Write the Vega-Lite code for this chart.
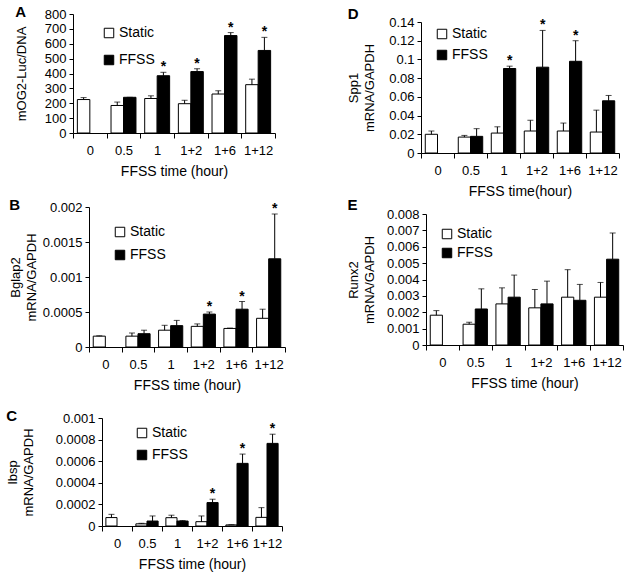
{
  "$schema": "https://vega.github.io/schema/vega-lite/v6.json",
  "padding": {"left": 6, "top": 5, "right": 2, "bottom": 2},
  "background": "white",
  "data": {"values": [
    {"panel": "A", "time": "0", "cond": "Static", "v": 225, "hi": 238},
    {"panel": "A", "time": "0.5", "cond": "Static", "v": 185, "hi": 208},
    {"panel": "A", "time": "0.5", "cond": "FFSS", "v": 240, "hi": 240},
    {"panel": "A", "time": "1", "cond": "Static", "v": 232, "hi": 250},
    {"panel": "A", "time": "1", "cond": "FFSS", "v": 385, "hi": 408, "star": 1},
    {"panel": "A", "time": "1+2", "cond": "Static", "v": 197, "hi": 220},
    {"panel": "A", "time": "1+2", "cond": "FFSS", "v": 413, "hi": 432, "star": 1},
    {"panel": "A", "time": "1+6", "cond": "Static", "v": 262, "hi": 284},
    {"panel": "A", "time": "1+6", "cond": "FFSS", "v": 655, "hi": 675, "star": 1},
    {"panel": "A", "time": "1+12", "cond": "Static", "v": 325, "hi": 362},
    {"panel": "A", "time": "1+12", "cond": "FFSS", "v": 555, "hi": 643, "star": 1},

    {"panel": "B", "time": "0", "cond": "Static", "v": 0.000155, "hi": 0.00016},
    {"panel": "B", "time": "0.5", "cond": "Static", "v": 0.000155, "hi": 0.0002},
    {"panel": "B", "time": "0.5", "cond": "FFSS", "v": 0.00019, "hi": 0.00024},
    {"panel": "B", "time": "1", "cond": "Static", "v": 0.00024, "hi": 0.00031},
    {"panel": "B", "time": "1", "cond": "FFSS", "v": 0.000305, "hi": 0.00038},
    {"panel": "B", "time": "1+2", "cond": "Static", "v": 0.000295, "hi": 0.00033},
    {"panel": "B", "time": "1+2", "cond": "FFSS", "v": 0.00047, "hi": 0.0005, "star": 1},
    {"panel": "B", "time": "1+6", "cond": "Static", "v": 0.000265, "hi": 0.00027},
    {"panel": "B", "time": "1+6", "cond": "FFSS", "v": 0.00054, "hi": 0.00065, "star": 1},
    {"panel": "B", "time": "1+12", "cond": "Static", "v": 0.00041, "hi": 0.00054},
    {"panel": "B", "time": "1+12", "cond": "FFSS", "v": 0.00126, "hi": 0.0019, "star": 1},

    {"panel": "C", "time": "0", "cond": "Static", "v": 0.000078, "hi": 0.000108},
    {"panel": "C", "time": "0.5", "cond": "Static", "v": 0.00002, "hi": 0.000025},
    {"panel": "C", "time": "0.5", "cond": "FFSS", "v": 0.000046, "hi": 0.000093},
    {"panel": "C", "time": "1", "cond": "Static", "v": 0.000077, "hi": 0.0001},
    {"panel": "C", "time": "1", "cond": "FFSS", "v": 0.000046, "hi": 0.00005},
    {"panel": "C", "time": "1+2", "cond": "Static", "v": 0.00004, "hi": 0.000093},
    {"panel": "C", "time": "1+2", "cond": "FFSS", "v": 0.000217, "hi": 0.000248, "star": 1},
    {"panel": "C", "time": "1+6", "cond": "Static", "v": 0.00001, "hi": 0.000012},
    {"panel": "C", "time": "1+6", "cond": "FFSS", "v": 0.00058, "hi": 0.000666, "star": 1},
    {"panel": "C", "time": "1+12", "cond": "Static", "v": 0.00008, "hi": 0.00017},
    {"panel": "C", "time": "1+12", "cond": "FFSS", "v": 0.000765, "hi": 0.00085, "star": 1},

    {"panel": "D", "time": "0", "cond": "Static", "v": 0.02, "hi": 0.0235},
    {"panel": "D", "time": "0.5", "cond": "Static", "v": 0.017, "hi": 0.0188},
    {"panel": "D", "time": "0.5", "cond": "FFSS", "v": 0.0178, "hi": 0.026},
    {"panel": "D", "time": "1", "cond": "Static", "v": 0.0213, "hi": 0.028},
    {"panel": "D", "time": "1", "cond": "FFSS", "v": 0.0903, "hi": 0.0928, "star": 1},
    {"panel": "D", "time": "1+2", "cond": "Static", "v": 0.0235, "hi": 0.035},
    {"panel": "D", "time": "1+2", "cond": "FFSS", "v": 0.0917, "hi": 0.131, "star": 1},
    {"panel": "D", "time": "1+6", "cond": "Static", "v": 0.0235, "hi": 0.032},
    {"panel": "D", "time": "1+6", "cond": "FFSS", "v": 0.098, "hi": 0.12, "star": 1},
    {"panel": "D", "time": "1+12", "cond": "Static", "v": 0.0224, "hi": 0.0458},
    {"panel": "D", "time": "1+12", "cond": "FFSS", "v": 0.0558, "hi": 0.0615},

    {"panel": "E", "time": "0", "cond": "Static", "v": 0.00182, "hi": 0.0021},
    {"panel": "E", "time": "0.5", "cond": "Static", "v": 0.00127, "hi": 0.00139},
    {"panel": "E", "time": "0.5", "cond": "FFSS", "v": 0.0022, "hi": 0.00343},
    {"panel": "E", "time": "1", "cond": "Static", "v": 0.00251, "hi": 0.00349},
    {"panel": "E", "time": "1", "cond": "FFSS", "v": 0.00292, "hi": 0.00427},
    {"panel": "E", "time": "1+2", "cond": "Static", "v": 0.00227, "hi": 0.00339},
    {"panel": "E", "time": "1+2", "cond": "FFSS", "v": 0.00251, "hi": 0.0039},
    {"panel": "E", "time": "1+6", "cond": "Static", "v": 0.00292, "hi": 0.0046},
    {"panel": "E", "time": "1+6", "cond": "FFSS", "v": 0.00273, "hi": 0.0037},
    {"panel": "E", "time": "1+12", "cond": "Static", "v": 0.00292, "hi": 0.00382},
    {"panel": "E", "time": "1+12", "cond": "FFSS", "v": 0.00524, "hi": 0.00684}
  ]},
  "columns": 2,
  "align": "none",
  "spacing": {"row": 0, "column": 61},
  "resolve": {"scale": {"fill": "independent", "xOffset": "independent"}, "legend": {"fill": "independent"}},
  "concat": [
    {
      "title": {"text": "A"},
      "width": 202, "height": 119,
      "transform": [{"filter": "datum.panel === 'A'"}],
      "encoding": {
        "x": {"field": "time", "type": "nominal", "sort": ["0", "0.5", "1", "1+2", "1+6", "1+12"], "scale": {"paddingInner": 0, "paddingOuter": 0}, "axis": {"title": "FFSS time (hour)"}},
        "xOffset": {"field": "cond", "type": "nominal", "sort": ["Static", "FFSS"], "scale": {"paddingInner": 0, "paddingOuter": 0.35}}
      },
      "layer": [
        {"mark": {"type": "bar", "stroke": "black", "strokeWidth": 1},
         "encoding": {
           "y": {"field": "v", "type": "quantitative", "scale": {"domain": [0, 800], "nice": false}, "axis": {"title": "mOG2-Luc/DNA", "titlePadding": 16, "labelOverlap": false, "values": [0, 100, 200, 300, 400, 500, 600, 700, 800]}},
           "fill": {"field": "cond", "type": "nominal", "sort": ["Static", "FFSS"], "scale": {"domain": ["Static", "FFSS"], "range": ["white", "black"]}, "legend": {"title": null, "orient": "none", "legendX": 29, "legendY": 12, "rowPadding": 13}}
         }},
        {"mark": {"type": "rule", "color": "black", "strokeWidth": 1}, "encoding": {"y": {"field": "v", "type": "quantitative", "scale": {"domain": [0, 800], "nice": false}, "axis": {"title": "mOG2-Luc/DNA", "titlePadding": 16, "labelOverlap": false, "values": [0, 100, 200, 300, 400, 500, 600, 700, 800]}}, "y2": {"field": "hi"}}},
        {"mark": {"type": "tick", "color": "black", "size": 6, "thickness": 1}, "encoding": {"y": {"field": "hi", "type": "quantitative", "scale": {"domain": [0, 800], "nice": false}, "axis": {"title": "mOG2-Luc/DNA", "titlePadding": 16, "labelOverlap": false, "values": [0, 100, 200, 300, 400, 500, 600, 700, 800]}}}},
        {"transform": [{"filter": "datum.star === 1"}], "mark": {"type": "text", "text": "*", "baseline": "bottom", "dy": 2, "fontSize": 14, "fontWeight": "bold", "font": "Liberation Sans"}, "encoding": {"y": {"field": "hi", "type": "quantitative", "scale": {"domain": [0, 800], "nice": false}, "axis": {"title": "mOG2-Luc/DNA", "titlePadding": 16, "labelOverlap": false, "values": [0, 100, 200, 300, 400, 500, 600, 700, 800]}}}}
      ]
    },
    {
      "title": {"text": "D", "offset": -8},
      "width": 198, "height": 139,
      "transform": [{"filter": "datum.panel === 'D'"}],
      "encoding": {
        "x": {"field": "time", "type": "nominal", "sort": ["0", "0.5", "1", "1+2", "1+6", "1+12"], "scale": {"paddingInner": 0, "paddingOuter": 0}, "axis": {"title": "FFSS time(hour)"}},
        "xOffset": {"field": "cond", "type": "nominal", "sort": ["Static", "FFSS"], "scale": {"paddingInner": 0, "paddingOuter": 0.35}}
      },
      "layer": [
        {"mark": {"type": "bar", "stroke": "black", "strokeWidth": 1},
         "encoding": {
           "y": {"field": "v", "type": "quantitative", "scale": {"domain": [0, 0.14], "nice": false, "range": [139, 8]}, "axis": {"title": ["Spp1", "mRNA/GAPDH"], "titlePadding": 12, "labelOverlap": false, "format": "~g", "values": [0, 0.02, 0.04, 0.06, 0.08, 0.1, 0.12, 0.14]}},
           "fill": {"field": "cond", "type": "nominal", "sort": ["Static", "FFSS"], "scale": {"domain": ["Static", "FFSS"], "range": ["white", "black"]}, "legend": {"title": null, "orient": "none", "legendX": 14, "legendY": 13, "rowPadding": 7}}
         }},
        {"mark": {"type": "rule", "color": "black", "strokeWidth": 1}, "encoding": {"y": {"field": "v", "type": "quantitative", "scale": {"domain": [0, 0.14], "nice": false, "range": [139, 8]}, "axis": {"title": ["Spp1", "mRNA/GAPDH"], "titlePadding": 12, "labelOverlap": false, "format": "~g", "values": [0, 0.02, 0.04, 0.06, 0.08, 0.1, 0.12, 0.14]}}, "y2": {"field": "hi"}}},
        {"mark": {"type": "tick", "color": "black", "size": 6, "thickness": 1}, "encoding": {"y": {"field": "hi", "type": "quantitative", "scale": {"domain": [0, 0.14], "nice": false, "range": [139, 8]}, "axis": {"title": ["Spp1", "mRNA/GAPDH"], "titlePadding": 12, "labelOverlap": false, "format": "~g", "values": [0, 0.02, 0.04, 0.06, 0.08, 0.1, 0.12, 0.14]}}}},
        {"transform": [{"filter": "datum.star === 1"}], "mark": {"type": "text", "text": "*", "baseline": "bottom", "dy": 2, "fontSize": 14, "fontWeight": "bold", "font": "Liberation Sans"}, "encoding": {"y": {"field": "hi", "type": "quantitative", "scale": {"domain": [0, 0.14], "nice": false, "range": [139, 8]}, "axis": {"title": ["Spp1", "mRNA/GAPDH"], "titlePadding": 12, "labelOverlap": false, "format": "~g", "values": [0, 0.02, 0.04, 0.06, 0.08, 0.1, 0.12, 0.14]}}}}
      ]
    },
    {
      "title": {"text": "B"},
      "width": 212, "height": 140,
      "transform": [{"filter": "datum.panel === 'B'"}],
      "encoding": {
        "x": {"field": "time", "type": "nominal", "sort": ["0", "0.5", "1", "1+2", "1+6", "1+12"], "scale": {"paddingInner": 0, "paddingOuter": 0, "range": [16, 212]}, "axis": {"title": "FFSS time (hour)"}},
        "xOffset": {"field": "cond", "type": "nominal", "sort": ["Static", "FFSS"], "scale": {"paddingInner": 0, "paddingOuter": 0.35}}
      },
      "layer": [
        {"mark": {"type": "bar", "stroke": "black", "strokeWidth": 1},
         "encoding": {
           "y": {"field": "v", "type": "quantitative", "scale": {"domain": [0, 0.002], "nice": false}, "axis": {"title": ["Bglap2", "mRNA/GAPDH"], "offset": -16, "titlePadding": 4, "labelOverlap": false, "format": "~g", "values": [0, 0.0005, 0.001, 0.0015, 0.002]}},
           "fill": {"field": "cond", "type": "nominal", "sort": ["Static", "FFSS"], "scale": {"domain": ["Static", "FFSS"], "range": ["white", "black"]}, "legend": {"title": null, "orient": "none", "legendX": 40, "legendY": 18, "rowPadding": 9}}
         }},
        {"mark": {"type": "rule", "color": "black", "strokeWidth": 1}, "encoding": {"y": {"field": "v", "type": "quantitative", "scale": {"domain": [0, 0.002], "nice": false}, "axis": {"title": ["Bglap2", "mRNA/GAPDH"], "offset": -16, "titlePadding": 4, "labelOverlap": false, "format": "~g", "values": [0, 0.0005, 0.001, 0.0015, 0.002]}}, "y2": {"field": "hi"}}},
        {"mark": {"type": "tick", "color": "black", "size": 6, "thickness": 1}, "encoding": {"y": {"field": "hi", "type": "quantitative", "scale": {"domain": [0, 0.002], "nice": false}, "axis": {"title": ["Bglap2", "mRNA/GAPDH"], "offset": -16, "titlePadding": 4, "labelOverlap": false, "format": "~g", "values": [0, 0.0005, 0.001, 0.0015, 0.002]}}}},
        {"transform": [{"filter": "datum.star === 1"}], "mark": {"type": "text", "text": "*", "baseline": "bottom", "dy": 2, "fontSize": 14, "fontWeight": "bold", "font": "Liberation Sans"}, "encoding": {"y": {"field": "hi", "type": "quantitative", "scale": {"domain": [0, 0.002], "nice": false}, "axis": {"title": ["Bglap2", "mRNA/GAPDH"], "offset": -16, "titlePadding": 4, "labelOverlap": false, "format": "~g", "values": [0, 0.0005, 0.001, 0.0015, 0.002]}}}}
      ]
    },
    {
      "title": {"text": "E"},
      "width": 197, "height": 144,
      "transform": [{"filter": "datum.panel === 'E'"}],
      "encoding": {
        "x": {"field": "time", "type": "nominal", "sort": ["0", "0.5", "1", "1+2", "1+6", "1+12"], "scale": {"paddingInner": 0, "paddingOuter": 0}, "axis": {"title": "FFSS time (hour)"}},
        "xOffset": {"field": "cond", "type": "nominal", "sort": ["Static", "FFSS"], "scale": {"paddingInner": 0, "paddingOuter": 0.35}}
      },
      "layer": [
        {"mark": {"type": "bar", "stroke": "black", "strokeWidth": 1},
         "encoding": {
           "y": {"field": "v", "type": "quantitative", "scale": {"domain": [0, 0.008], "nice": false, "range": [144, 13]}, "axis": {"title": ["Runx2", "mRNA/GAPDH"], "titlePadding": 10, "labelOverlap": false, "format": "~g", "values": [0, 0.001, 0.002, 0.003, 0.004, 0.005, 0.006, 0.007, 0.008]}},
           "fill": {"field": "cond", "type": "nominal", "sort": ["Static", "FFSS"], "scale": {"domain": ["Static", "FFSS"], "range": ["white", "black"]}, "legend": {"title": null, "orient": "none", "legendX": 14, "legendY": 26, "rowPadding": 5}}
         }},
        {"mark": {"type": "rule", "color": "black", "strokeWidth": 1}, "encoding": {"y": {"field": "v", "type": "quantitative", "scale": {"domain": [0, 0.008], "nice": false, "range": [144, 13]}, "axis": {"title": ["Runx2", "mRNA/GAPDH"], "titlePadding": 10, "labelOverlap": false, "format": "~g", "values": [0, 0.001, 0.002, 0.003, 0.004, 0.005, 0.006, 0.007, 0.008]}}, "y2": {"field": "hi"}}},
        {"mark": {"type": "tick", "color": "black", "size": 6, "thickness": 1}, "encoding": {"y": {"field": "hi", "type": "quantitative", "scale": {"domain": [0, 0.008], "nice": false, "range": [144, 13]}, "axis": {"title": ["Runx2", "mRNA/GAPDH"], "titlePadding": 10, "labelOverlap": false, "format": "~g", "values": [0, 0.001, 0.002, 0.003, 0.004, 0.005, 0.006, 0.007, 0.008]}}}}
      ]
    },
    {
      "title": {"text": ["", "C"], "lineHeight": 13},
      "width": 209, "height": 108,
      "transform": [{"filter": "datum.panel === 'C'"}],
      "encoding": {
        "x": {"field": "time", "type": "nominal", "sort": ["0", "0.5", "1", "1+2", "1+6", "1+12"], "scale": {"paddingInner": 0, "paddingOuter": 0, "range": [29, 209]}, "axis": {"title": "FFSS time (hour)"}},
        "xOffset": {"field": "cond", "type": "nominal", "sort": ["Static", "FFSS"], "scale": {"paddingInner": 0, "paddingOuter": 0.35}}
      },
      "layer": [
        {"mark": {"type": "bar", "stroke": "black", "strokeWidth": 1},
         "encoding": {
           "y": {"field": "v", "type": "quantitative", "scale": {"domain": [0, 0.001], "nice": false}, "axis": {"title": ["Ibsp", "mRNA/GAPDH"], "offset": -29, "titlePadding": 20, "labelOverlap": false, "format": "~g", "values": [0, 0.0002, 0.0004, 0.0006, 0.0008, 0.001]}},
           "fill": {"field": "cond", "type": "nominal", "sort": ["Static", "FFSS"], "scale": {"domain": ["Static", "FFSS"], "range": ["white", "black"]}, "legend": {"title": null, "orient": "none", "legendX": 62, "legendY": 8, "rowPadding": 8}}
         }},
        {"mark": {"type": "rule", "color": "black", "strokeWidth": 1}, "encoding": {"y": {"field": "v", "type": "quantitative", "scale": {"domain": [0, 0.001], "nice": false}, "axis": {"title": ["Ibsp", "mRNA/GAPDH"], "offset": -29, "titlePadding": 20, "labelOverlap": false, "format": "~g", "values": [0, 0.0002, 0.0004, 0.0006, 0.0008, 0.001]}}, "y2": {"field": "hi"}}},
        {"mark": {"type": "tick", "color": "black", "size": 6, "thickness": 1}, "encoding": {"y": {"field": "hi", "type": "quantitative", "scale": {"domain": [0, 0.001], "nice": false}, "axis": {"title": ["Ibsp", "mRNA/GAPDH"], "offset": -29, "titlePadding": 20, "labelOverlap": false, "format": "~g", "values": [0, 0.0002, 0.0004, 0.0006, 0.0008, 0.001]}}}},
        {"transform": [{"filter": "datum.star === 1"}], "mark": {"type": "text", "text": "*", "baseline": "bottom", "dy": 2, "fontSize": 14, "fontWeight": "bold", "font": "Liberation Sans"}, "encoding": {"y": {"field": "hi", "type": "quantitative", "scale": {"domain": [0, 0.001], "nice": false}, "axis": {"title": ["Ibsp", "mRNA/GAPDH"], "offset": -29, "titlePadding": 20, "labelOverlap": false, "format": "~g", "values": [0, 0.0002, 0.0004, 0.0006, 0.0008, 0.001]}}}}
      ]
    }
  ],
  "config": {
    "view": {"stroke": null},
    "font": "Liberation Sans",
    "title": {"anchor": "start", "frame": "bounds", "fontSize": 15, "fontWeight": "bold", "font": "Liberation Sans", "color": "black", "offset": -12},
    "axis": {"grid": false, "domainColor": "black", "tickColor": "black", "labelColor": "black", "titleColor": "black", "labelFont": "Liberation Sans", "titleFont": "Liberation Sans", "labelFontSize": 13, "titleFontSize": 14, "titleFontWeight": "normal", "tickSize": 4, "labelOverlap": false, "labelBound": false},
    "axisX": {"labelAngle": 0, "tickBand": "extent", "labelPadding": 6, "tickSize": 5, "titlePadding": 7},
    "axisY": {"labelPadding": 3, "titleFontSize": 13, "titleLineHeight": 16},
    "legend": {"symbolType": "square", "symbolSize": 90, "symbolStrokeColor": "black", "symbolStrokeWidth": 1, "labelFont": "Liberation Sans", "labelFontSize": 14, "labelColor": "black", "labelOffset": 3, "padding": 0}
  }
}
